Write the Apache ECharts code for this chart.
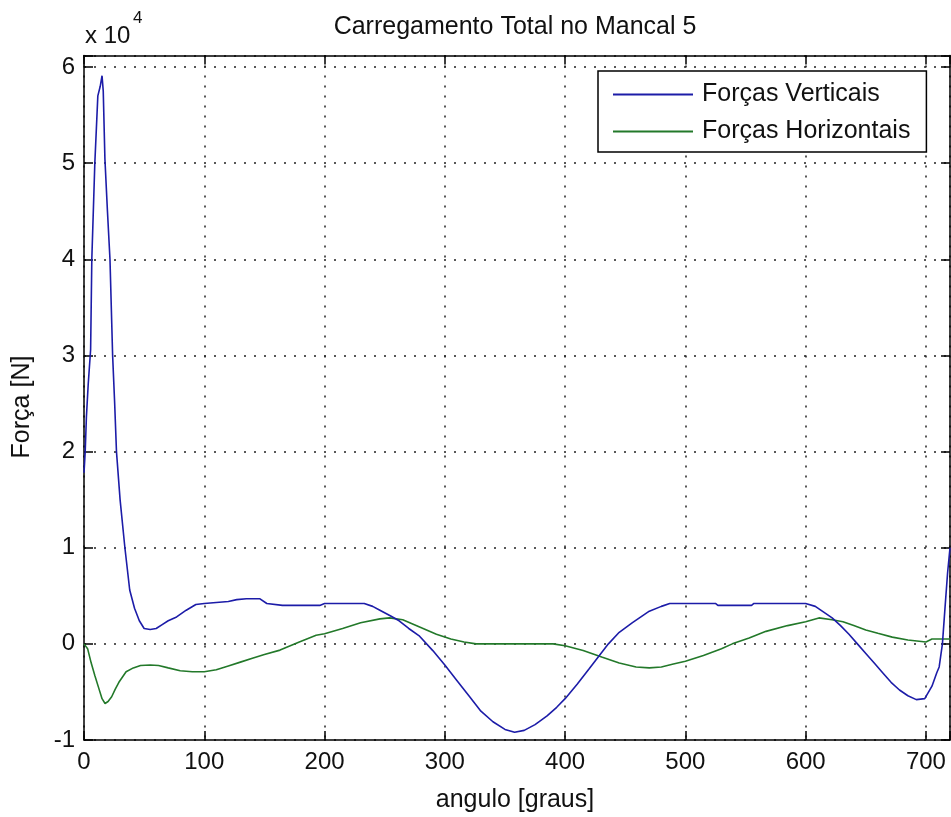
<!DOCTYPE html>
<html>
<head>
<meta charset="utf-8">
<script src="https://cdn.jsdelivr.net/npm/echarts@6/dist/echarts.min.js"></script>
<style>
  html, body { margin: 0; padding: 0; background: #fff; }
  #chart { width: 951px; height: 817px; }
</style>
</head>
<body>
<div id="chart"></div>
<script>
// Crank angle [graus] and bearing load [N] for the vertical component
const vertAngles = [0,1,2,3.5,5.5,6.5,9,11.5,13.5,15,16,17.4,19.5,21.6,23.8,25.5,27,30,34,38,42,46,50,55,60,65,70,77,85,93,100,110,120,127,135,146,152,165,180,196,200,220,233,240,246,255,262,270,279,290,300,310,320,330,340,350,358,366,375,385,393,400,410,420,428,436,445,456,470,480,487,500,525,527,555,557,600,608,615,622,629,636,643,650,657,664,671,678,685,692,699,705,709,711,713.7,716,718,720];
const vertForces = [17800,20000,23600,27000,30600,40000,50000,57000,58000,59100,57500,50400,45000,40000,30000,25000,20000,15000,10000,5600,3700,2400,1600,1500,1600,2000,2400,2800,3500,4100,4200,4300,4400,4600,4700,4700,4200,4000,4000,4000,4200,4200,4200,3900,3500,2900,2400,1600,800,-700,-2200,-3800,-5400,-7000,-8100,-8900,-9200,-9000,-8400,-7500,-6600,-5700,-4200,-2600,-1300,0,1200,2200,3400,3900,4200,4200,4200,4000,4000,4200,4200,3900,3300,2700,1900,1000,0,-1000,-2000,-3000,-4000,-4800,-5400,-5800,-5700,-4400,-3000,-2400,0,4000,7400,10000];

// Horizontal component
const horizAngles = [0,3,6,9,12,15,17.5,20,23,26,29,35,41,47,55,62,70,80,90,100,110,120,130,140,150,163,179,193,200,215,230,246,254,265,280,293,305,316,326,390,400,415,431,445,459,470,480,490,500,515,530,539,553,567,585,600,611,622,631,640,650,660,672,685,700,705,720];
const horizForces = [0,-500,-2000,-3300,-4500,-5700,-6200,-6000,-5500,-4700,-4000,-2900,-2500,-2250,-2200,-2250,-2500,-2800,-2900,-2900,-2700,-2300,-1900,-1500,-1100,-650,200,900,1050,1600,2200,2600,2700,2500,1700,1000,500,200,0,0,-200,-700,-1400,-2000,-2400,-2500,-2400,-2100,-1800,-1200,-500,0,600,1300,1900,2300,2700,2500,2300,1900,1450,1100,700,400,200,500,500];

const seriesNames = ['Forças Verticais', 'Forças Horizontais'];
const titleText = 'Carregamento Total no Mancal 5';
const xLabel = 'angulo [graus]';
const yLabel = 'Força [N]';

const X_MIN = 0, X_MAX = 720, X_STEP = 100;
const Y_MIN = -10000, Y_MAX = 61200, Y_STEP = 10000;

const FONT = '"Liberation Sans", Arial, sans-serif';

const zip = (xs, ys) => xs.map((x, i) => [x, ys[i]]);

const chart = echarts.init(document.getElementById('chart'), null, { renderer: 'canvas' });

const gridLine = { show: true, lineStyle: { color: '#222', width: 1.5, type: [2, 8] } };
const frameLine = { show: true, onZero: false, lineStyle: { color: '#000', width: 1.5 } };
const innerTick = { show: true, inside: true, length: 9, lineStyle: { color: '#000', width: 1.5 } };

chart.setOption({
  animation: false,
  backgroundColor: '#fff',
  grid: { left: 84, right: 1, top: 55.5, bottom: 77, containLabel: false, outerBoundsMode: 'none' },
  xAxis: [{
    type: 'value', position: 'bottom', min: X_MIN, max: X_MAX, interval: X_STEP,
    axisLine: frameLine, axisTick: innerTick, splitLine: gridLine,
    axisLabel: {
      margin: 10, fontSize: 24, fontFamily: FONT, color: '#111',
      formatter: v => (v % X_STEP === 0 ? String(v) : '')
    }
  }, {
    type: 'value', position: 'top', min: X_MIN, max: X_MAX, interval: X_STEP,
    axisLine: frameLine, axisTick: innerTick, splitLine: { show: false }, axisLabel: { show: false }
  }],
  yAxis: [{
    type: 'value', position: 'left', min: Y_MIN, max: Y_MAX, interval: Y_STEP,
    axisLine: frameLine, axisTick: innerTick, splitLine: gridLine,
    axisLabel: {
      margin: 9, fontSize: 24, fontFamily: FONT, color: '#111',
      formatter: v => (v % Y_STEP === 0 ? String(v / Y_STEP) : '')
    }
  }, {
    type: 'value', position: 'right', min: Y_MIN, max: Y_MAX, interval: Y_STEP,
    axisLine: frameLine, axisTick: innerTick, splitLine: { show: false }, axisLabel: { show: false }
  }],
  legend: {
    show: true,
    orient: 'vertical',
    left: 598, top: 71,
    padding: [11, 16, 8, 15],
    itemGap: 12,
    itemWidth: 80, itemHeight: 2,
    icon: 'rect',
    backgroundColor: '#fff',
    borderColor: '#000', borderWidth: 1.5,
    selectedMode: false,
    textStyle: { fontSize: 25, fontFamily: FONT, color: '#111', padding: [0, 0, 0, 4] },
    data: seriesNames
  },
  series: [{
    name: seriesNames[0], type: 'line', showSymbol: false, symbol: 'none',
    lineStyle: { color: '#1c1ca8', width: 1.6 }, itemStyle: { color: '#1c1ca8' },
    data: zip(vertAngles, vertForces), z: 3
  }, {
    name: seriesNames[1], type: 'line', showSymbol: false, symbol: 'none',
    lineStyle: { color: '#23792a', width: 1.6 }, itemStyle: { color: '#23792a' },
    data: zip(horizAngles, horizForces), z: 2
  }],
  graphic: [
    { type: 'text', left: 'center', x: 0, style: { text: '' } },
    { type: 'text', x: 515, y: 27, style: { text: titleText, font: '25px ' + FONT, fill: '#111', align: 'center', verticalAlign: 'middle' } },
    { type: 'text', x: 515, y: 800, style: { text: xLabel, font: '25px ' + FONT, fill: '#111', align: 'center', verticalAlign: 'middle' } },
    { type: 'text', x: 22, y: 407, rotation: Math.PI / 2, style: { text: yLabel, font: '25px ' + FONT, fill: '#111', align: 'center', verticalAlign: 'middle' } },
    { type: 'text', x: 85, y: 36, style: { text: 'x 10', font: '24px ' + FONT, fill: '#111', align: 'left', verticalAlign: 'middle' } },
    { type: 'text', x: 133, y: 18, style: { text: '4', font: '17px ' + FONT, fill: '#111', align: 'left', verticalAlign: 'middle' } }
  ]
});
</script>
</body>
</html>
